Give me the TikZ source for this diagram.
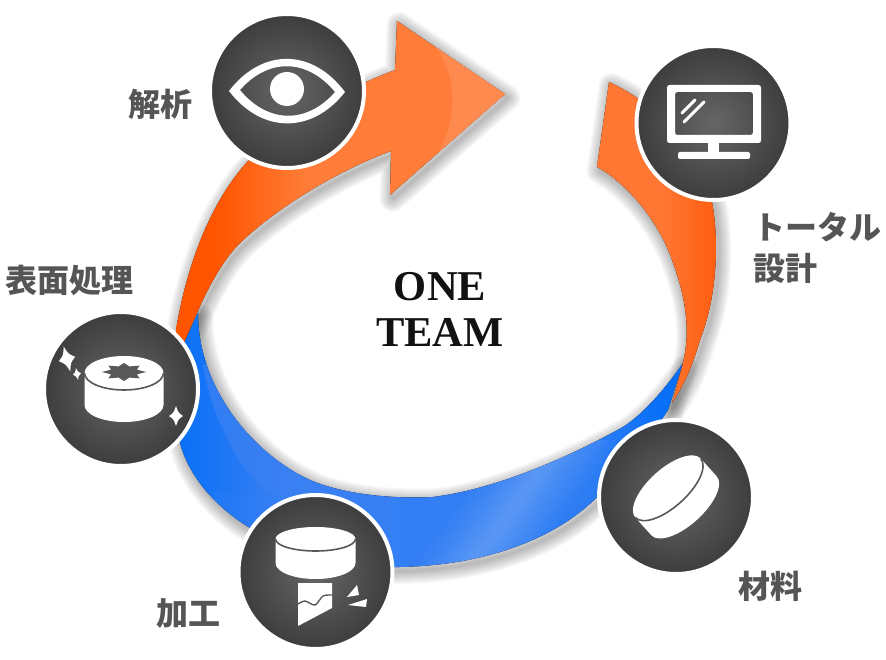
\documentclass[tikz,border=0pt]{standalone}
\usepackage{fontspec}
\setmainfont{Liberation Serif}
\newfontfamily\jpfont{Noto Sans CJK JP}
\definecolor{labelgray}{HTML}{555555}
\definecolor{icongray}{HTML}{585858}
\definecolor{headlight}{HTML}{FF8A50}
\definecolor{bandblue}{HTML}{3A80F2}
\definecolor{ringA}{HTML}{0870F8}
\definecolor{ringB}{HTML}{3A80F2}
\definecolor{ringC}{HTML}{327EF4}
\definecolor{ringD}{HTML}{2C7CF4}
\definecolor{orA}{HTML}{FF5500}
\definecolor{orB}{HTML}{FF7D38}
\definecolor{orC}{HTML}{FF7733}
\definecolor{orD}{HTML}{FF5D10}
% Colour runs along the ring; 25bp and 75bp are the edges of the filled rectangle.
\pgfdeclarehorizontalshading{ringblue}{100bp}{
  color(0bp)=(ringA); color(25bp)=(ringA); color(35.6bp)=(ringB);
  color(50.7bp)=(ringC); color(66bp)=(ringD); color(72bp)=(ringA); color(100bp)=(ringA)}
\pgfdeclarehorizontalshading{arrowheat}{100bp}{
  color(0bp)=(orA); color(25bp)=(orA); color(31bp)=(orA); color(45bp)=(orB); color(100bp)=(orB)}
\pgfdeclarehorizontalshading{tailheat}{100bp}{
  color(0bp)=(orC); color(25bp)=(orC); color(52bp)=(orC); color(75bp)=(orD); color(100bp)=(orD)}

% Outlines of the three ribbon pieces
\newcommand{\ringoutline}{
  (183,345) -- (198,313)
  .. controls (198,390) and (255,455) .. (310,480)
  .. controls (345,495) and (395,499) .. (433,497)
  .. controls (490,490) and (560,462) .. (623,427)
  .. controls (645,413) and (668,385) .. (683,363)
  -- (668,410)
  .. controls (645,445) and (620,480) .. (597,497)
  .. controls (565,530) and (500,565) .. (400,567)
  .. controls (340,570) and (285,550) .. (250,528)
  .. controls (220,510) and (190,480) .. (180,443)
  -- (172,400) -- cycle}
\newcommand{\arrowoutline}{
  (172,345) -- (176,330)
  .. controls (186,270) and (208,205) .. (248,161)
  .. controls (280,125) and (330,95) .. (395,70)
  -- (397,21) -- (505,94) -- (390,195) -- (391,151)
  .. controls (340,170) and (280,205) .. (240,243)
  .. controls (215,268) and (198,310) .. (183,345)
  -- cycle}
\newcommand{\tailoutline}{
  (609,82) .. controls (620,87) and (630,93) .. (639,99)
  .. controls (675,125) and (705,170) .. (712,202)
  .. controls (720,245) and (716,300) .. (700,340)
  .. controls (693,365) and (684,385) .. (672,403)
  -- (683,363)
  .. controls (692,325) and (683,290) .. (672,260)
  .. controls (660,225) and (630,185) .. (597,167)
  -- cycle}
% Soft drop shadow: translucent strokes of growing width, offset down and right
\newcommand{\softshadow}[1]{
  \foreach \w in {26,24,...,2}
    \path[draw=black,opacity=.024,line width=\w pt,line join=round,xshift=2.5pt,yshift=-4pt] #1;}
% Four-pointed glint
\newcommand{\glint}[5]{
  \fill[white,shift={(#1,#2)},rotate=#5] (0,-#4) .. controls (.3*#3,-.35*#4) .. (#3,0)
    .. controls (.3*#3,.35*#4) .. (0,#4) .. controls (-.3*#3,.35*#4) .. (-#3,0)
    .. controls (-.3*#3,-.35*#4) .. cycle;}

\tikzset{
  disc/.style={circle,minimum size=154pt,inner sep=0pt,outer sep=0pt,draw=white,line width=4pt,
    shading=radial,inner color=black!60!white,outer color=black!76!white},
  jplabel/.style={text=labelgray,inner sep=0pt,font=\jpfont\bfseries\fontsize{32}{41}\selectfont,align=left},
  titletext/.style={text=black!93,inner sep=0pt,font=\bfseries\fontsize{42.5}{46}\selectfont,align=center},
  puckline/.style={draw=icongray,line width=1.6pt}
}

\begin{document}
\begin{tikzpicture}[x=1pt,y=-1pt]
\useasboundingbox (0,0) rectangle (886,660);

% Ribbon shadows
\softshadow{\ringoutline}
\softshadow{\arrowoutline}
\softshadow{\tailoutline}

% Blue ring
\begin{scope}
  \clip \ringoutline;
  \fill[shading=ringblue] (176,300) rectangle (690,570);
  \fill[bandblue,opacity=.75] (203,365) .. controls (210,410) and (235,465) .. (265,490) -- (300,500) -- (300,340) -- cycle;
  \fill[bandblue,opacity=.2] (180,493) -- (265,493) -- (265,540) -- (180,540) -- cycle;
  % Slanted sheen across the lower right of the ring
  \foreach \d in {55,47,40,33,26,20,14,9,5}
    \fill[white,opacity=.028] (562-\d,440) -- (562+\d,440) -- (448+\d,600) -- (448-\d,600) -- cycle;
\end{scope}

% Main orange arrow
\begin{scope}
  \clip \arrowoutline;
  \fill[shading=arrowheat] (176,20) rectangle (505,350);
  \fill[headlight] (425,25) -- (433,43) .. controls (452,68) and (462,105) .. (440,150) -- (425,175) -- (520,175) -- (520,25) -- cycle;
\end{scope}

% Orange tail at the top right
\begin{scope}
  \clip \tailoutline;
  \fill[shading=tailheat] (597,80) rectangle (717,405);
\end{scope}

% Process discs
\node[disc] (analysis) at (287,91) {};
\node[disc] (design) at (713.5,123) {};
\node[disc] (surface) at (121,389) {};
\node[disc] (machining) at (315.5,572) {};
\node[disc] (material) at (676,497) {};

% Eye
\fill[white,even odd rule] (229,91) .. controls (262,48) and (312,48) .. (345,92) .. controls (312,134) and (262,134) .. cycle
  (240,90) .. controls (268,58) and (307,58) .. (335,92) .. controls (307,124) and (268,124) .. cycle;
\fill[white] (287,89) circle [radius=17];

% Monitor
\fill[white,even odd rule,rounded corners=2.5pt] (667,85) rectangle (761,143) (675,92) rectangle (753,135);
\fill[white] (708,142) rectangle (719,153);
\fill[white,rounded corners=2pt] (678,152) rectangle (750,159);
\draw[white,line width=3pt,line cap=round] (695,100) -- (682,113) (704,102) -- (684,122);

% Polished puck with glints
\fill[white] (84.5,373) -- (84.5,405) arc [start angle=180,end angle=0,x radius=39.5,y radius=17] -- (163.5,373) -- cycle;
\fill[white] (124,373) ellipse [x radius=39.5,y radius=17];
\draw[puckline] (84.5,373) arc [start angle=180,end angle=0,x radius=39.5,y radius=17];
\fill[icongray] plot[samples at={0,...,15},variable=\k]
  ({124+(mod(\k,2)==0?22:14)*cos(\k*22.5+90)},{372+(mod(\k,2)==0?9:6)*sin(\k*22.5+90)}) -- cycle;
\glint{67}{359}{8.5}{13}{15}
\glint{77}{374}{4}{6}{10}
\glint{176}{416}{7}{10}{0}

% Cutting tool
\fill[white] (275.5,539) -- (275.5,563) arc [start angle=180,end angle=0,x radius=40,y radius=16] -- (355.5,539) -- cycle;
\fill[white] (315.5,539) ellipse [x radius=40,y radius=12];
\draw[puckline] (275.5,539) arc [start angle=180,end angle=0,x radius=40,y radius=12];
\fill[white] (298,583) -- (332,583) -- (332,608) -- (298,626) -- cycle;
\draw[puckline,line width=1.4pt] plot[smooth] coordinates {(298,604) (305,601) (315,605) (323,596) (332,595)};
\fill[white] (357,585) -- (347,597) -- (359,595) -- cycle;
\fill[white] (348,605) -- (367,599) -- (366,607) -- cycle;

% Raw material puck, tilted
\begin{scope}[shift={(668,488)},rotate=42]
  \fill[white] (-44,0) -- (-44,24) arc [start angle=180,end angle=0,x radius=44,y radius=19] -- (44,0) -- cycle;
  \fill[white] (0,0) ellipse [x radius=44,y radius=19];
  \draw[puckline] (-44,0) arc [start angle=180,end angle=0,x radius=44,y radius=19];
\end{scope}

% Labels
\node[jplabel] (lanalysis) at (160.5,104) {解析};
\node[jplabel,anchor=west] (ldesign) at (753,248) {トータル\\設計};
\node[jplabel] (lsurface) at (69.5,280) {表面処理};
\node[jplabel] (lmachining) at (188.5,614) {加工};
\node[jplabel] (lmaterial) at (770,586) {材料};
\node[titletext] (title) at (440,309) {ONE\\TEAM};
\end{tikzpicture}
\end{document}
